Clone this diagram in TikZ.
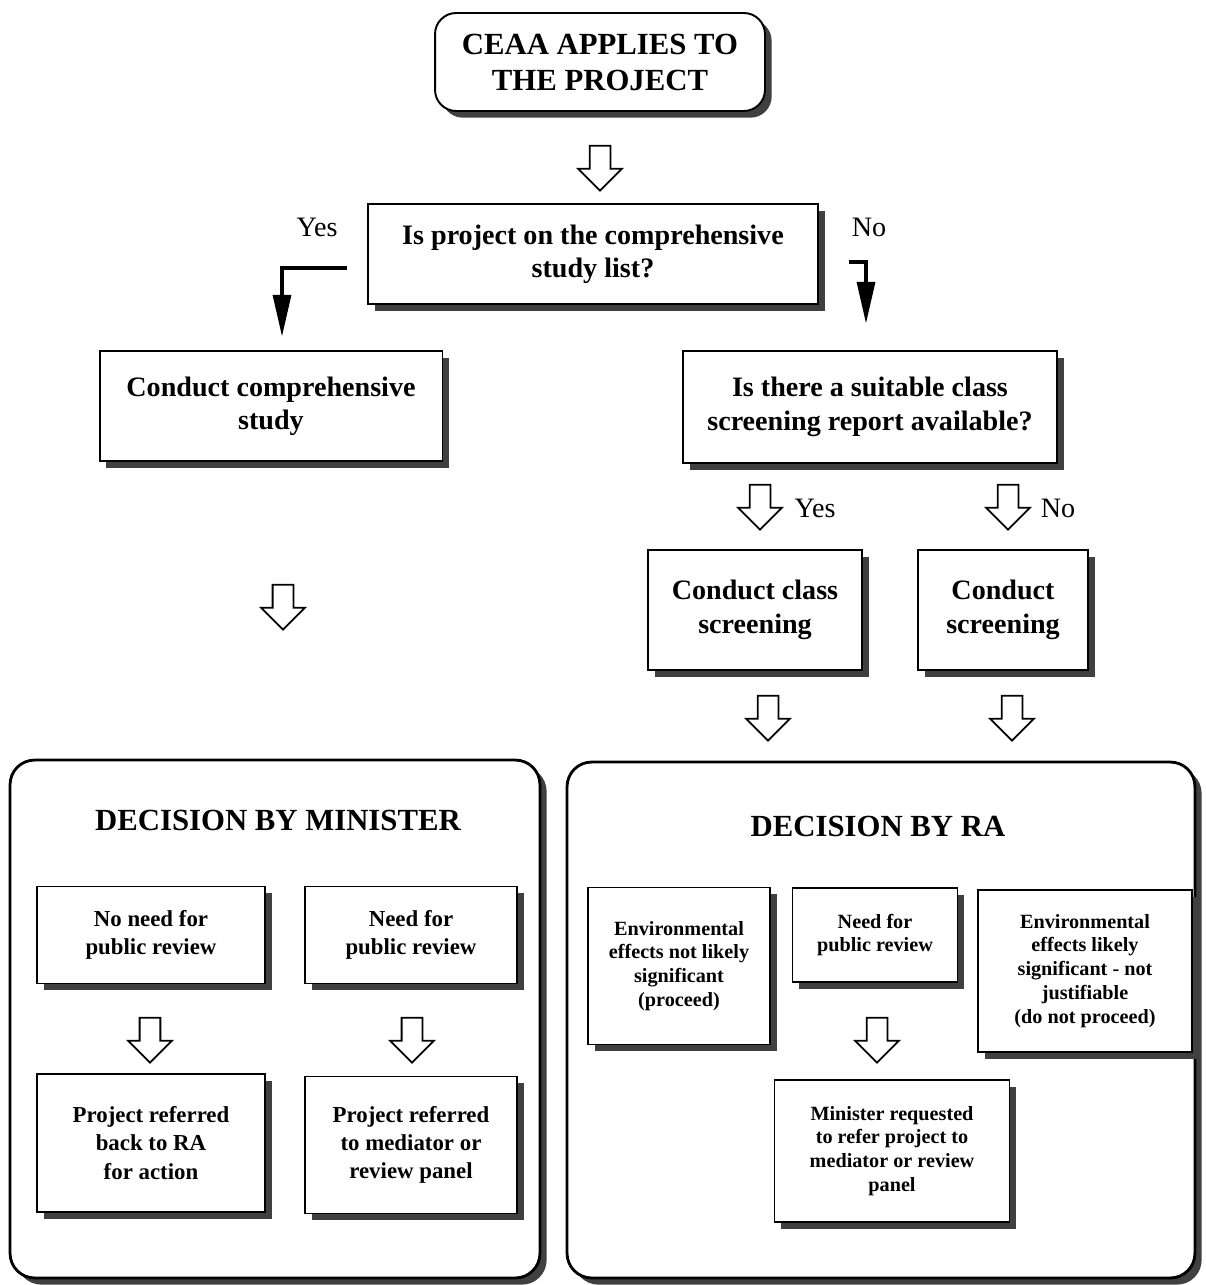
\documentclass[tikz,border=0pt]{standalone}
\usepackage{fontspec}
\setmainfont{Liberation Serif}
\usepackage{tikz}
\usetikzlibrary{positioning, calc, shapes.arrows, shadows, arrows.meta}
\tikzstyle{box}=[draw, line width=1.1pt, fill=white, align=center, font=\fontsize{16}{19}\selectfont\bfseries, drop shadow={shadow xshift=3.8pt, shadow yshift=-3.8pt, fill=black!75, opacity=1}]
\tikzstyle{smallbox}=[box, font=\fontsize{13}{16}\selectfont\bfseries]
\tikzstyle{tinybox}=[box, font=\fontsize{11.5}{13.6}\selectfont\bfseries]
\tikzstyle{panel}=[box, rounded corners=14pt, line width=1.6pt]
\tikzstyle{heading}=[font=\fontsize{17.5}{20.5}\selectfont\bfseries, align=center]
\tikzstyle{hollow}=[single arrow, draw, line width=1pt, fill=white, rotate=-90, minimum height=0.9cm, inner xsep=0pt, inner ysep=0.19cm, single arrow head extend=0.23cm]
\tikzstyle{bentarrow}=[line width=2.6pt, -{Triangle[length=24pt, width=10pt]}]
\tikzstyle{answer}=[font=\fontsize{16}{19}\selectfont]

\begin{document}
\begin{tikzpicture}[x=0.02cm, y=-0.02cm]
  \useasboundingbox (0,0) rectangle (1206,1285);

  % top of the chart
  \node [box, heading, rounded corners=12pt, minimum width=6.6cm, minimum height=1.96cm] (ceaa) at (600,62) {CEAA APPLIES TO\\THE PROJECT};
  \node [hollow] (a-0) at (600,163) {};
  \node [box, minimum width=9cm, minimum height=2cm] (list) at (593,254) {Is project on the comprehensive\\study list?};

  \node [answer] (yes-0) at ($(list.north west)+(-50,24)$) {Yes};
  \node [answer] (no-0) at ($(list.north east)+(50,24)$) {No};

  \node [box, minimum width=6.86cm, minimum height=2.2cm] (comp) at (271,406) {Conduct comprehensive\\study};
  \node [box, minimum width=7.48cm, minimum height=2.24cm] (class) at (870,407) {Is there a suitable class\\screening report available?};

  \draw [bentarrow] ($(list.west)+(-20,14)$) -| ($(comp.north)+(11,-13)$);
  \draw [bentarrow] ($(list.east)+(30,8)$) -| ($(class.north)+(-4,-26)$);

  % screening branch
  \node [hollow] (a-2) at (760,502) {};
  \node [hollow] (a-3) at (1008,502) {};
  \node [answer] (yes-1) at (815,508) {Yes};
  \node [answer] (no-1) at (1058,508) {No};

  \node [box, minimum width=4.28cm, minimum height=2.4cm] (clscr) at (755,610) {Conduct class\\screening};
  \node [box, minimum width=3.4cm, minimum height=2.4cm] (scr) at (1003,610) {Conduct\\screening};

  \node [hollow] (a-1) at (283,602) {};
  \node [hollow] (a-4) at (768,713) {};
  \node [hollow] (a-5) at (1012,713) {};

  % decision by minister
  \node [panel, minimum width=10.6cm, minimum height=10.36cm] (minister) at (275,1019) {};
  \node [heading] (min-title) at (278,820) {DECISION BY MINISTER};
  \node [smallbox, minimum width=4.56cm, minimum height=1.94cm] (min-1) at (151,935) {No need for\\public review};
  \node [smallbox, minimum width=4.24cm, minimum height=1.94cm] (min-2) at (411,935) {Need for\\public review};
  \node [hollow] (a-6) at (150,1035) {};
  \node [hollow] (a-7) at (412,1035) {};
  \node [smallbox, minimum width=4.56cm, minimum height=2.76cm] (min-3) at (151,1143) {Project referred\\back to RA\\for action};
  \node [smallbox, minimum width=4.24cm, minimum height=2.74cm] (min-4) at (411,1145) {Project referred\\to mediator or\\review panel};

  % decision by RA
  \node [panel, minimum width=12.56cm, minimum height=10.32cm] (ra) at (881,1020) {};
  \node [heading] (ra-title) at (878,826) {DECISION BY RA};
  \node [tinybox, minimum width=3.64cm, minimum height=3.14cm] (ra-1) at (679,966) {Environmental\\effects not likely\\significant\\(proceed)};
  \node [tinybox, minimum width=3.3cm, minimum height=1.88cm] (ra-2) at (875,935) {Need for\\public review};
  \node [tinybox, minimum width=4.28cm, minimum height=3.24cm] (ra-3) at (1085,971) {Environmental\\effects likely\\significant - not\\justifiable\\(do not proceed)};
  \node [hollow] (a-8) at (877,1035) {};
  \node [tinybox, minimum width=4.7cm, minimum height=2.84cm] (ra-4) at (892,1151) {Minister requested\\to refer project to\\mediator or review\\panel};
\end{tikzpicture}
\end{document}
